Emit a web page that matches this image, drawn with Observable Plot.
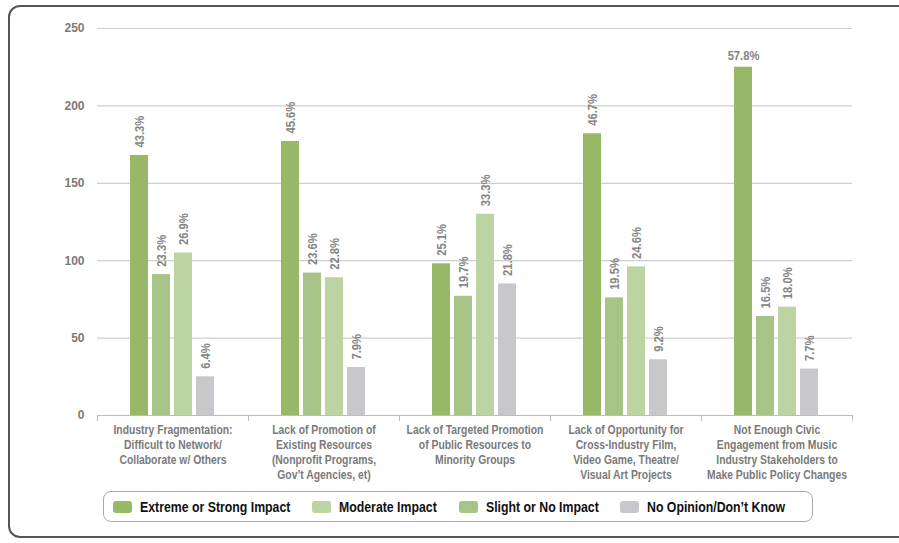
<!DOCTYPE html>
<html><head><meta charset="utf-8">
<script src="https://cdn.jsdelivr.net/npm/d3@7"></script>
<script src="https://cdn.jsdelivr.net/npm/@observablehq/plot@0.6"></script>
<style>
body{margin:0;background:#fff;font-family:"Liberation Sans",Arial,sans-serif;}
#wrap{position:relative;width:899px;height:543px;overflow:hidden;}
#border{position:absolute;left:8px;top:5px;width:930px;height:533px;border:2px solid #555;border-radius:12px;box-sizing:border-box;}
#chart{position:absolute;left:0;top:0;}
#legend{position:absolute;left:103px;top:491px;width:710px;height:31px;border:1.5px solid #aaa;border-radius:8px;box-sizing:border-box;display:flex;align-items:center;padding-left:8.5px;}
.item{display:flex;align-items:center;font-weight:bold;font-size:15px;color:#111;margin-right:22px;white-space:nowrap;}
.item span{display:inline-block;transform:scaleX(0.82);transform-origin:left center;}
.sw{width:19px;height:12px;border-radius:3px;margin-right:8px;}
</style></head>
<body>
<div id="wrap"><div id="border"></div><div id="chart"></div><div id="legend"></div></div>
<script>
const categories = [
  "Industry Fragmentation:\nDifficult to Network/\nCollaborate w/ Others",
  "Lack of Promotion of\nExisting Resources\n(Nonprofit Programs,\nGov’t Agencies, et)",
  "Lack of Targeted Promotion\nof Public Resources to\nMinority Groups",
  "Lack of Opportunity for\nCross-Industry Film,\nVideo Game, Theatre/\nVisual Art Projects",
  "Not Enough Civic\nEngagement from Music\nIndustry Stakeholders to\nMake Public Policy Changes"
];
// legend order
const seriesNames = ["Extreme or Strong Impact", "Moderate Impact", "Slight or No Impact", "No Opinion/Don’t Know"];
// bar order within each group
const barOrder = ["Extreme or Strong Impact", "Slight or No Impact", "Moderate Impact", "No Opinion/Don’t Know"];
const seriesColors = ["#97b867", "#bcd4a1", "#a7c486", "#c8c8cc"];

const extremeValues   = [168, 177, 98, 182, 225];
const slightValues    = [91, 92, 77, 76, 64];
const moderateValues  = [105, 89, 130, 96, 70];
const noOpinionValues = [25, 31, 85, 36, 30];

const extremePct   = ["43.3%", "45.6%", "25.1%", "46.7%", "57.8%"];
const slightPct    = ["23.3%", "23.6%", "19.7%", "19.5%", "16.5%"];
const moderatePct  = ["26.9%", "22.8%", "33.3%", "24.6%", "18.0%"];
const noOpinionPct = ["6.4%", "7.9%", "21.8%", "9.2%", "7.7%"];

const yTicks = [0, 50, 100, 150, 200, 250];

const seriesData = {
  "Extreme or Strong Impact": [extremeValues, extremePct],
  "Slight or No Impact": [slightValues, slightPct],
  "Moderate Impact": [moderateValues, moderatePct],
  "No Opinion/Don’t Know": [noOpinionValues, noOpinionPct]
};
const rows = categories.flatMap((cat, i) => barOrder.map(s => ({
  cat, series: s, value: seriesData[s][0][i], pct: seriesData[s][1][i]
})));

const font = '"Liberation Sans",Arial,sans-serif';
const plot = Plot.plot({
  width: 899,
  height: 485,
  marginLeft: 96,
  marginRight: 47,
  marginTop: 28,
  marginBottom: 70,
  style: {fontFamily: font, background: "transparent"},
  fx: {domain: categories, padding: 0, label: null},
  x: {domain: barOrder, paddingInner: 0.18, paddingOuter: 1.48, axis: null},
  y: {domain: [0, 250], label: null},
  color: {domain: seriesNames, range: seriesColors},
  marks: [
    Plot.gridY(yTicks, {stroke: "#cfcfcf", strokeOpacity: 1, strokeWidth: 1.2}),
    Plot.ruleY([0], {stroke: "#bdbdbd", strokeWidth: 1.2}),
    Plot.frame({anchor: "left", stroke: "#bdbdbd", insetTop: 387, insetBottom: -5}),
    Plot.frame({anchor: "right", stroke: "#bdbdbd", insetTop: 387, insetBottom: -5}),
    Plot.axisY(yTicks, {tickSize: 0, tickPadding: 13, fontSize: 12, fontWeight: "bold", fill: "#7a7a7a", label: null}),
    Plot.axisFx({anchor: "bottom", tickSize: 0, tickPadding: 8, fontSize: 12.5, fontWeight: "bold", fill: "#7a7a7a", lineHeight: 1.2, label: null}),
    Plot.barY(rows, {fx: "cat", x: "series", y: "value", fill: "series"}),
    Plot.text(rows.filter(d => d.value <= 200), {fx: "cat", x: "series", y: "value", text: "pct", rotate: -90, textAnchor: "start", dy: -8, fontSize: 13.5, fontWeight: "bold", fill: "#858585"}),
    Plot.text(rows.filter(d => d.value > 200), {fx: "cat", x: "series", y: "value", text: "pct", lineAnchor: "bottom", dy: -7, fontSize: 13.5, fontWeight: "bold", fill: "#858585"})
  ]
});
// condensed lettering (the reference uses a condensed typeface)
d3.select(plot)
  .selectAll('g[aria-label="fx-axis tick label"] text, g[aria-label="text"] text')
  .each(function() {
    const t = this.getAttribute("transform");
    if (t) this.setAttribute("transform", t + " scale(0.83,1)");
  });
document.getElementById("chart").appendChild(plot);

const color = plot.scale("color");
const legend = document.getElementById("legend");
seriesNames.forEach((s, i) => {
  const item = document.createElement("div");
  item.className = "item";
  const sw = document.createElement("div");
  sw.className = "sw";
  sw.style.background = color.range[i];
  const label = document.createElement("span");
  label.textContent = s;
  item.appendChild(sw);
  item.appendChild(label);
  legend.appendChild(item);
  label.style.marginRight = (-label.offsetWidth * 0.18) + "px";
});
</script>
</body></html>
